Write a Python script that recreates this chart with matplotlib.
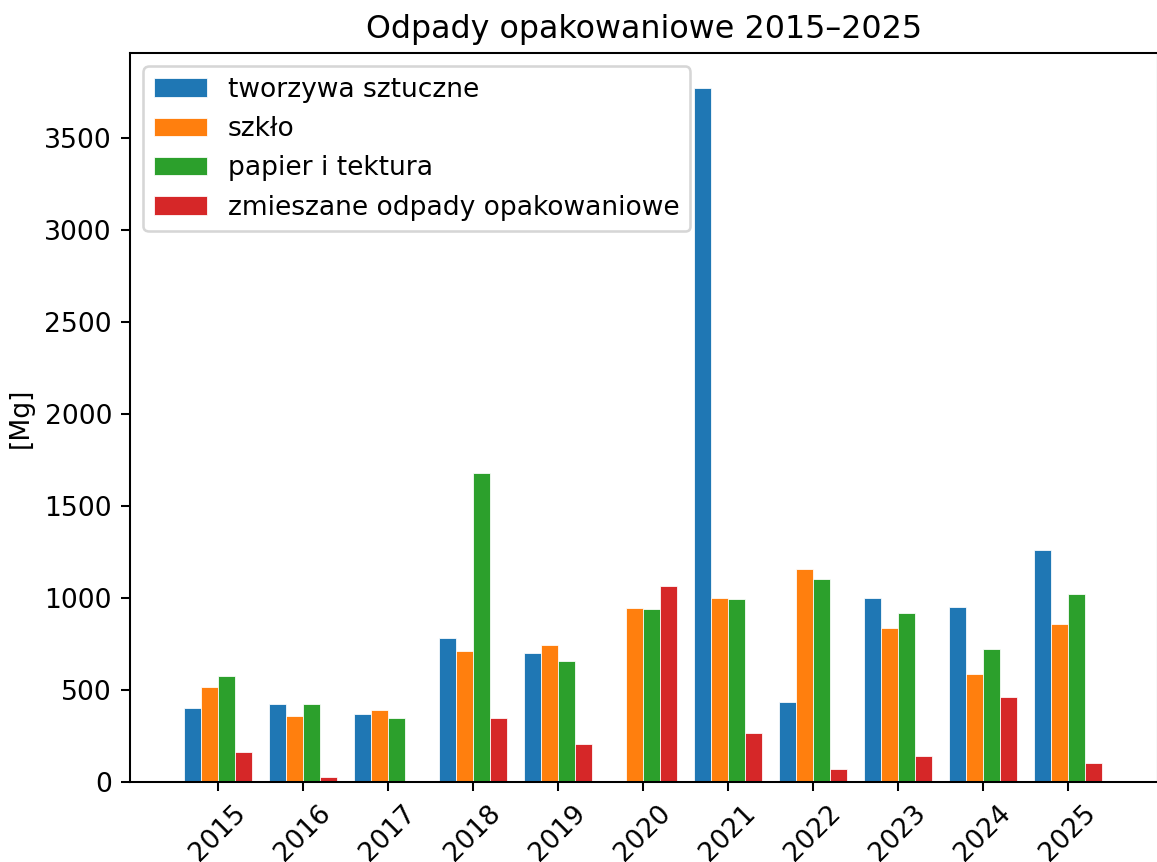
import matplotlib
matplotlib.use("Agg")
import matplotlib.pyplot as plt
import numpy as np

years = ["2015", "2016", "2017", "2018", "2019", "2020", "2021", "2022", "2023", "2024", "2025"]
tworzywa = [403, 423, 370, 784, 702, 0, 3773, 434, 1001, 950, 1260]
szklo = [516, 359, 390, 711, 742, 948, 1001, 1156, 837, 589, 857]
papier = [576, 423, 350, 1679, 660, 939, 992, 1105, 919, 722, 1021]
zmieszane = [164, 29, 0, 350, 206, 1063, 266, 69, 142, 463, 102]

series_names = ["tworzywa sztuczne", "szkło", "papier i tektura", "zmieszane odpady opakowaniowe"]
colors = ["#1f77b4", "#ff7f0e", "#2ca02c", "#d62728"]

plt.rcParams["font.size"] = 10.3

DPI = 185
fig = plt.figure(figsize=(1157 / DPI, 862 / DPI), dpi=DPI)
ax = fig.add_axes([130 / 1157, 80 / 862, 1028 / 1157, 729 / 862])

x = np.arange(len(years))
w = 0.2
for i, (vals, name, c) in enumerate(zip([tworzywa, szklo, papier, zmieszane], series_names, colors)):
    ax.bar(x + (i - 1.5) * w, vals, width=w, color=c, label=name,
           edgecolor="white", linewidth=0.3)

ax.set_xticks(x)
ax.set_xticklabels(years, rotation=45)
ax.set_xlim(-1.035, 11.06)
ax.set_ylabel("[Mg]")
ax.set_title("Odpady opakowaniowe 2015–2025")
ax.legend(loc="upper left")

fig.savefig("out.png", dpi=DPI)
